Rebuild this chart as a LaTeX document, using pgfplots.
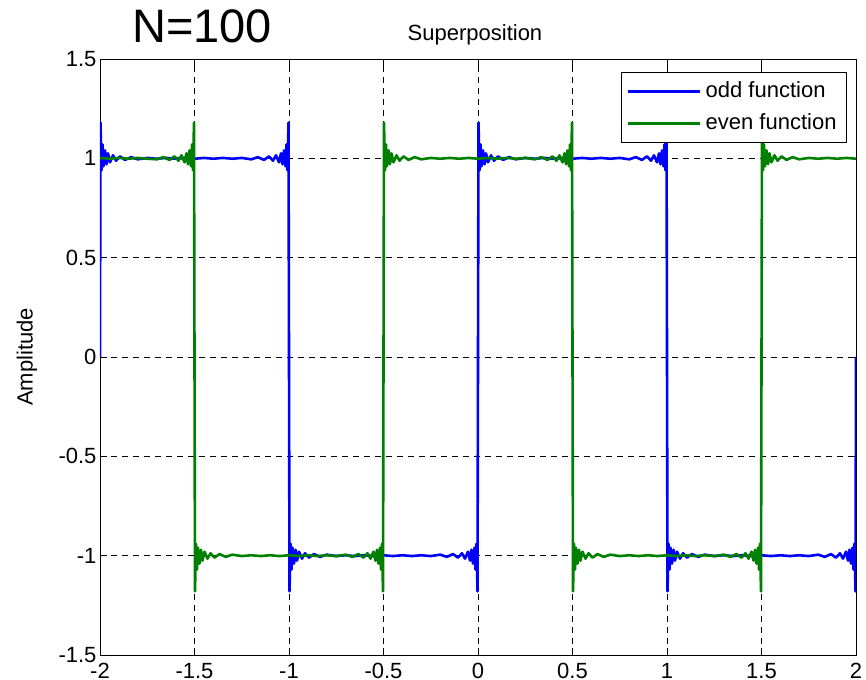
\documentclass[border=0pt]{standalone}
\usepackage{pgfplots}
\pgfplotsset{compat=1.18}
\usepackage{fontspec}
\setmainfont{Liberation Sans}
\definecolor{mblue}{rgb}{0,0,1}
\definecolor{mgreen}{rgb}{0,0.5,0}
\begin{document}
\begin{tikzpicture}
\begin{axis}[
  at={(0pt,0pt)}, anchor=south west,
  scale only axis, width=756pt, height=596pt,
  xmin=-2, xmax=2, ymin=-1.5, ymax=1.5,
  xtick={-2,-1.5,...,2}, ytick={-1.5,-1,...,1.5},
  xticklabels={-2,-1.5,-1,-0.5,0,0.5,1,1.5,2},
  yticklabels={-1.5,-1,-0.5,0,0.5,1,1.5},
  tick align=inside, tick pos=both, major tick length=7pt,
  tick style={black, line width=0.8pt},
  axis line style={black, line width=0.8pt},
  grid=major, major grid style={black, line width=0.6pt, dash pattern=on 6pt off 5pt},
  clip mode=individual,
  font=\fontsize{22}{26}\selectfont,
  ticklabel style={font=\fontsize{22}{26}\selectfont},
  xticklabel style={yshift=-5pt},
  /pgf/number format/assume math mode=true,
  ylabel={Amplitude},
  ylabel style={at={(axis description cs:-0.0966,0.5)}, anchor=center, rotate=0},
  title={Superposition},
  title style={at={(axis description cs:0.496,1)}, anchor=base, yshift=12pt},
  legend style={at={(0.988,0.978)}, anchor=north east, draw=black, line width=0.8pt,
    font=\fontsize{22}{26}\selectfont, inner xsep=6pt, inner ysep=3pt,
    nodes={text height=15pt, text depth=3pt, inner ysep=7pt, inner xsep=4pt}},
  legend cell align=left,
  legend image code/.code={\draw[#1, line width=2.6pt] (0pt,0pt) -- (72pt,0pt);},
]
\addplot[mblue, line width=2.6pt, line join=round] coordinates {
(-2,0)
(-1.9974,1.18) (-1.9921,0.94) (-1.9868,1.07) (-1.9815,0.96) (-1.9735,1.04) (-1.9656,0.97) (-1.9577,1.025) (-1.9471,0.98) (-1.9312,1.015) (-1.9153,0.988) (-1.894,1.01) (-1.868,0.992) (-1.835,1.006) (-1.800,0.995)
(-1.75,1.002) (-1.70,0.998) (-1.65,1.002) (-1.60,0.998) (-1.55,1.002) (-1.50,0.998) (-1.45,1.002) (-1.40,0.998) (-1.35,1.002) (-1.30,0.998) (-1.25,1.002)
(-1.200,0.995) (-1.165,1.006) (-1.132,0.992) (-1.106,1.010) (-1.0847,0.988) (-1.0688,1.015) (-1.0529,0.980) (-1.0423,1.025) (-1.0344,0.970) (-1.0265,1.040) (-1.0185,0.960) (-1.0132,1.070) (-1.0079,0.940) (-1.0026,1.180)
(-0.9974,-1.18) (-0.9921,-0.94) (-0.9868,-1.07) (-0.9815,-0.96) (-0.9735,-1.04) (-0.9656,-0.97) (-0.9577,-1.025) (-0.9471,-0.98) (-0.9312,-1.015) (-0.9153,-0.988) (-0.894,-1.01) (-0.868,-0.992) (-0.835,-1.006) (-0.800,-0.995)
(-0.75,-1.002) (-0.70,-0.998) (-0.65,-1.002) (-0.60,-0.998) (-0.55,-1.002) (-0.50,-0.998) (-0.45,-1.002) (-0.40,-0.998) (-0.35,-1.002) (-0.30,-0.998) (-0.25,-1.002)
(-0.200,-0.995) (-0.165,-1.006) (-0.132,-0.992) (-0.106,-1.010) (-0.0847,-0.988) (-0.0688,-1.015) (-0.0529,-0.980) (-0.0423,-1.025) (-0.0344,-0.970) (-0.0265,-1.040) (-0.0185,-0.960) (-0.0132,-1.070) (-0.0079,-0.940) (-0.0026,-1.180)
(0.0026,1.18) (0.0079,0.94) (0.0132,1.07) (0.0185,0.96) (0.0265,1.04) (0.0344,0.97) (0.0423,1.025) (0.0529,0.98) (0.0688,1.015) (0.0847,0.988) (0.106,1.01) (0.132,0.992) (0.165,1.006) (0.200,0.995)
(0.25,1.002) (0.30,0.998) (0.35,1.002) (0.40,0.998) (0.45,1.002) (0.50,0.998) (0.55,1.002) (0.60,0.998) (0.65,1.002) (0.70,0.998) (0.75,1.002)
(0.800,0.995) (0.835,1.006) (0.868,0.992) (0.894,1.010) (0.9153,0.988) (0.9312,1.015) (0.9471,0.98) (0.9577,1.025) (0.9656,0.97) (0.9735,1.04) (0.9815,0.96) (0.9868,1.07) (0.9921,0.94) (0.9974,1.18)
(1.0026,-1.18) (1.0079,-0.94) (1.0132,-1.07) (1.0185,-0.96) (1.0265,-1.04) (1.0344,-0.97) (1.0423,-1.025) (1.0529,-0.98) (1.0688,-1.015) (1.0847,-0.988) (1.106,-1.01) (1.132,-0.992) (1.165,-1.006) (1.200,-0.995)
(1.25,-1.002) (1.30,-0.998) (1.35,-1.002) (1.40,-0.998) (1.45,-1.002) (1.50,-0.998) (1.55,-1.002) (1.60,-0.998) (1.65,-1.002) (1.70,-0.998) (1.75,-1.002)
(1.800,-0.995) (1.835,-1.006) (1.868,-0.992) (1.894,-1.010) (1.9153,-0.988) (1.9312,-1.015) (1.9471,-0.98) (1.9577,-1.025) (1.9656,-0.97) (1.9735,-1.04) (1.9815,-0.96) (1.9868,-1.07) (1.9921,-0.94) (1.9974,-1.18)
(2,0)
};
\addlegendentry{odd function}
\addplot[mgreen, line width=2.6pt, line join=round] coordinates {
(-2.00,1.002) (-1.95,0.998) (-1.90,1.002) (-1.85,0.998) (-1.80,1.002) (-1.75,0.998)
(-1.700,0.995) (-1.665,1.006) (-1.632,0.992) (-1.606,1.01) (-1.5847,0.988) (-1.5688,1.015) (-1.5529,0.98) (-1.5423,1.025) (-1.5344,0.97) (-1.5265,1.04) (-1.5185,0.96) (-1.5132,1.07) (-1.5079,0.94) (-1.5026,1.18)
(-1.4974,-1.18) (-1.4921,-0.94) (-1.4868,-1.07) (-1.4815,-0.96) (-1.4735,-1.04) (-1.4656,-0.97) (-1.4577,-1.025) (-1.4471,-0.98) (-1.4312,-1.015) (-1.4153,-0.988) (-1.394,-1.01) (-1.368,-0.992) (-1.335,-1.006) (-1.300,-0.995)
(-1.25,-1.002) (-1.20,-0.998) (-1.15,-1.002) (-1.10,-0.998) (-1.05,-1.002) (-1.00,-0.998) (-0.95,-1.002) (-0.90,-0.998) (-0.85,-1.002) (-0.80,-0.998) (-0.75,-1.002)
(-0.700,-0.995) (-0.665,-1.006) (-0.632,-0.992) (-0.606,-1.01) (-0.5847,-0.988) (-0.5688,-1.015) (-0.5529,-0.98) (-0.5423,-1.025) (-0.5344,-0.97) (-0.5265,-1.04) (-0.5185,-0.96) (-0.5132,-1.07) (-0.5079,-0.94) (-0.5026,-1.18)
(-0.4974,1.18) (-0.4921,0.94) (-0.4868,1.07) (-0.4815,0.96) (-0.4735,1.04) (-0.4656,0.97) (-0.4577,1.025) (-0.4471,0.98) (-0.4312,1.015) (-0.4153,0.988) (-0.394,1.01) (-0.368,0.992) (-0.335,1.006) (-0.300,0.995)
(-0.25,1.002) (-0.20,0.998) (-0.15,1.002) (-0.10,0.998) (-0.05,1.002) (0.00,0.998) (0.05,1.002) (0.10,0.998) (0.15,1.002) (0.20,0.998) (0.25,1.002)
(0.300,0.995) (0.335,1.006) (0.368,0.992) (0.394,1.01) (0.4153,0.988) (0.4312,1.015) (0.4471,0.98) (0.4577,1.025) (0.4656,0.97) (0.4735,1.04) (0.4815,0.96) (0.4868,1.07) (0.4921,0.94) (0.4974,1.18)
(0.5026,-1.18) (0.5079,-0.94) (0.5132,-1.07) (0.5185,-0.96) (0.5265,-1.04) (0.5344,-0.97) (0.5423,-1.025) (0.5529,-0.98) (0.5688,-1.015) (0.5847,-0.988) (0.606,-1.01) (0.632,-0.992) (0.665,-1.006) (0.700,-0.995)
(0.75,-1.002) (0.80,-0.998) (0.85,-1.002) (0.90,-0.998) (0.95,-1.002) (1.00,-0.998) (1.05,-1.002) (1.10,-0.998) (1.15,-1.002) (1.20,-0.998) (1.25,-1.002)
(1.300,-0.995) (1.335,-1.006) (1.368,-0.992) (1.394,-1.01) (1.4153,-0.988) (1.4312,-1.015) (1.4471,-0.98) (1.4577,-1.025) (1.4656,-0.97) (1.4735,-1.04) (1.4815,-0.96) (1.4868,-1.07) (1.4921,-0.94) (1.4974,-1.18)
(1.5026,1.18) (1.5079,0.94) (1.5132,1.07) (1.5185,0.96) (1.5265,1.04) (1.5344,0.97) (1.5423,1.025) (1.5529,0.98) (1.5688,1.015) (1.5847,0.988) (1.606,1.01) (1.632,0.992) (1.665,1.006) (1.700,0.995)
(1.75,1.002) (1.80,0.998) (1.85,1.002) (1.90,0.998) (1.95,1.002) (2.00,0.998)
};
\addlegendentry{even function}
\node[anchor=base, font=\fontsize{47}{56}\selectfont, inner sep=0pt] at (axis description cs:0.135,1) [yshift=16pt] {N=100};
\end{axis}
\pgfresetboundingbox
\useasboundingbox (-100pt,-24pt) rectangle (766pt,655pt);
\end{tikzpicture}
\end{document}
